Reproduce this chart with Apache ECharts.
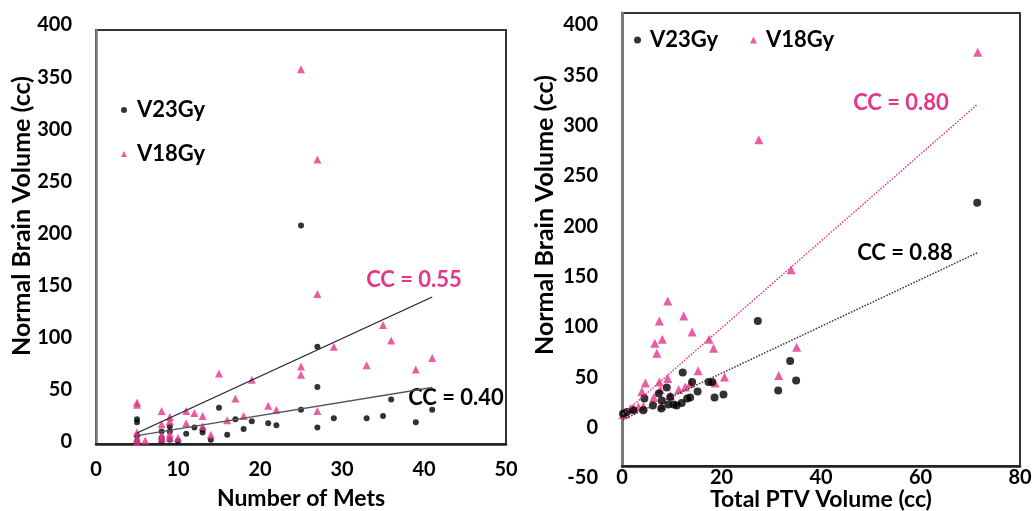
<!DOCTYPE html>
<html>
<head>
<meta charset="utf-8">
<script src="https://cdn.jsdelivr.net/npm/echarts@6/dist/echarts.min.js"></script>
<style>html,body{margin:0;padding:0;background:#fff}#c{width:1034px;height:511px}</style>
</head>
<body>
<div id="c"></div>
<script>
// ---- Left panel: Number of Mets vs Normal Brain Volume ----
const metsV23X = [5,5,5,5,8,8,8,9,9,9,10,11,12,13,13,14,15,16,17,18,19,21,22,25,25,27,27,27,29,33,35,36,39,41];
const metsV23Y = [24,21,8,3,12,6,3,17,12,4,3,10,16,14,11,4,35,9,24,14.5,22,20,18,211,33,94,55,16,25,25,27,43,21,33];
const metsV18X = [5,5,5,5,5,6,8,8,8,8,9,9,9,9,10,11,11,12,13,13,14,15,16,17,18,19,21,22,25,25,25,27,27,27,29,33,35,36,39,41];
const metsV18Y = [40,38,11,5,2,3.5,32,19,8,5,26,22,10,6,6,32,20,30,27,17,9,68,23,44,27,62,37,33,362,75,67,275,145,32,94,76,115,100,72,83];
const metsTrendV18 = [[5,10.6],[41,142]];
const metsTrendV23 = [[5,8],[41,54.6]];

// ---- Right panel: Total PTV Volume vs Normal Brain Volume ----
const ptvV18X = [71.5,27.5,34,9.2,7.5,12.4,14.1,8.1,6.6,7,17.5,18.4,15.3,20.6,18.7,31.5,35.1,9.2,7.5,4.7,4,6.4,7.7,9.7,11.4,12.7,13.7,8,4.3,3.3,2.3,1.7,0.7,0.2];
const ptvV18Y = [361,274,145,114,94,99,83,76,72,62,76,67,44.5,38.5,32.5,40,68,37,33.5,32.5,24,18,26,20,26,28.5,32,10,9.4,8.7,7.7,7,2,1];
const ptvV23X = [71.4,27.3,33.8,35,31.4,12.2,14.1,17.4,18.1,15.2,18.6,20.4,9,7.4,4.5,6.2,7.9,9.3,10.4,11,12,13.1,13.7,9.7,8,4.3,2.3,1,0.2];
const ptvV23Y = [211.6,94,54.4,35,25,43,33.5,33.5,33.5,24,18,21,28,22,17,10,7,11,11,10,12.6,17,18,18.6,15,5.4,5.4,3.7,2];
const ptvTrendV18 = [[0.2,1.5],[71.5,309.5]];
const ptvTrendV23 = [[0.2,-4],[71.5,162]];

const metsTicks = {min:0, max:50, interval:10};
const ptvTicks = {min:0, max:80, interval:20};
const volLeftTicks = {min:0, max:400, interval:50};
const volRightTicks = {min:-50, max:400, interval:50};

const PINK = '#e6348b';
const FONT = 'Lato';
const zip = (a,b) => a.map((v,i)=>[v,b[i]]);

const chart = echarts.init(document.getElementById('c'), null, {renderer:'canvas'});
const labelStyle = {fontFamily:FONT, fontWeight:'bold', fontSize:20, color:'#000'};
const titleStyle = {fontFamily:FONT, fontWeight:'bold', fontSize:23, color:'#000'};
const hiddenX = gi => ({gridIndex:gi, type:'value', min:0, max:1, show:false});
const G = {containLabel:false, outerBoundsMode:'none'};

const option = {
  animation:false,
  backgroundColor:'#fff',
  grid:[
    {...G, left:96, top:30, width:410, height:414, show:true, borderColor:'#333', borderWidth:2},
    {...G, left:622, top:13, width:398, height:453, show:true, borderColor:'#333', borderWidth:2},
    // label-only grids (tick labels of the original sit slightly offset from the plot box)
    {...G, left:96, top:25, width:410, height:417, show:false},
    {...G, left:622, top:25, width:398, height:453, show:false}
  ],
  xAxis:[
    {gridIndex:0, type:'value', ...metsTicks, name:'Number of Mets', nameLocation:'middle', nameGap:43,
     nameMoveOverlap:false, nameTextStyle:titleStyle,
     axisLine:{onZero:false, lineStyle:{color:'#222', width:2.5}}, axisTick:{show:false}, splitLine:{show:false},
     axisLabel:{...labelStyle, margin:16}},
    {gridIndex:1, type:'value', ...ptvTicks, name:'Total PTV Volume (cc)', nameLocation:'middle', nameGap:22,
     nameMoveOverlap:false, nameTextStyle:titleStyle,
     axisLine:{onZero:false, lineStyle:{color:'#222', width:2.5}}, axisTick:{show:false}, splitLine:{show:false},
     axisLabel:{...labelStyle, margin:2}},
    hiddenX(2), hiddenX(3)
  ],
  yAxis:[
    {gridIndex:0, type:'value', ...volLeftTicks,
     axisLine:{onZero:false, lineStyle:{color:'#7a7a7a', width:2.5}}, axisTick:{show:false}, splitLine:{show:false},
     axisLabel:{show:false}},
    {gridIndex:1, type:'value', ...volRightTicks,
     axisLine:{onZero:false, lineStyle:{color:'#7a7a7a', width:3}}, axisTick:{show:false}, splitLine:{show:false},
     axisLabel:{show:false}},
    {gridIndex:2, type:'value', ...volLeftTicks,
     axisLine:{show:false}, axisTick:{show:false}, splitLine:{show:false},
     axisLabel:{...labelStyle, margin:24}},
    {gridIndex:3, type:'value', ...volRightTicks,
     axisLine:{show:false}, axisTick:{show:false}, splitLine:{show:false},
     axisLabel:{...labelStyle, margin:24}}
  ],
  legend:[
    {orient:'vertical', left:121, top:98, padding:0, itemWidth:6, itemHeight:6, itemGap:20, selectedMode:false,
     data:['V23Gy','V18Gy'],
     textStyle:{fontFamily:FONT, fontWeight:'bold', fontSize:22, lineHeight:24, color:'#000', padding:[0,0,0,5]}},
    {orient:'horizontal', left:634, top:28, padding:0, itemWidth:7, itemHeight:7, itemGap:32, selectedMode:false,
     data:['V23Gy','V18Gy'],
     textStyle:{fontFamily:FONT, fontWeight:'bold', fontSize:22, lineHeight:24, color:'#000', padding:[0,0,0,4]}}
  ],
  series:[
    {name:'V23Gy', type:'scatter', xAxisIndex:0, yAxisIndex:0, symbol:'circle', symbolSize:6,
     itemStyle:{color:'#000'}, data:zip(metsV23X, metsV23Y), z:2},
    {name:'V18Gy', type:'scatter', xAxisIndex:0, yAxisIndex:0, symbol:'triangle', symbolSize:8,
     itemStyle:{color:PINK}, data:zip(metsV18X, metsV18Y), z:3},
    {name:'trend18mets', type:'line', xAxisIndex:0, yAxisIndex:0, symbol:'none', data:metsTrendV18,
     lineStyle:{color:'#222', width:1.3}, z:4},
    {name:'trend23mets', type:'line', xAxisIndex:0, yAxisIndex:0, symbol:'none', data:metsTrendV23,
     lineStyle:{color:'#555', width:1.3}, z:4},
    {name:'V18Gy', type:'scatter', xAxisIndex:1, yAxisIndex:1, symbol:'triangle', symbolSize:9,
     itemStyle:{color:PINK}, data:zip(ptvV18X, ptvV18Y), z:2},
    {name:'V23Gy', type:'scatter', xAxisIndex:1, yAxisIndex:1, symbol:'circle', symbolSize:8,
     itemStyle:{color:'#000'}, data:zip(ptvV23X, ptvV23Y), z:3},
    {name:'trend18ptv', type:'line', xAxisIndex:1, yAxisIndex:1, symbol:'none', data:ptvTrendV18,
     lineStyle:{color:PINK, width:1.5, type:'dotted'}, z:4},
    {name:'trend23ptv', type:'line', xAxisIndex:1, yAxisIndex:1, symbol:'none', data:ptvTrendV23,
     lineStyle:{color:'#333', width:1.5, type:'dotted'}, z:4}
  ],
  graphic:[
    {type:'text', x:21.7, y:216, rotation:Math.PI/2,
     style:{text:'Normal Brain Volume (cc)', fontFamily:FONT, fontWeight:'bold', fontSize:25, fill:'#000', textAlign:'center', textVerticalAlign:'middle'}},
    {type:'text', x:545, y:215, rotation:Math.PI/2,
     style:{text:'Normal Brain Volume (cc)', fontFamily:FONT, fontWeight:'bold', fontSize:25, fill:'#000', textAlign:'center', textVerticalAlign:'middle'}},
    {type:'text', x:414, y:280,
     style:{text:'CC = 0.55', fontFamily:FONT, fontWeight:'bold', fontSize:22, fill:PINK, textAlign:'center', textVerticalAlign:'middle'}},
    {type:'text', x:456, y:398,
     style:{text:'CC = 0.40', fontFamily:FONT, fontWeight:'bold', fontSize:22, fill:'#000', textAlign:'center', textVerticalAlign:'middle'}},
    {type:'text', x:901, y:103,
     style:{text:'CC = 0.80', fontFamily:FONT, fontWeight:'bold', fontSize:22, fill:PINK, textAlign:'center', textVerticalAlign:'middle'}},
    {type:'text', x:905, y:253,
     style:{text:'CC = 0.88', fontFamily:FONT, fontWeight:'bold', fontSize:22, fill:'#000', textAlign:'center', textVerticalAlign:'middle'}}
  ]
};
chart.setOption(option);
</script>
</body>
</html>
